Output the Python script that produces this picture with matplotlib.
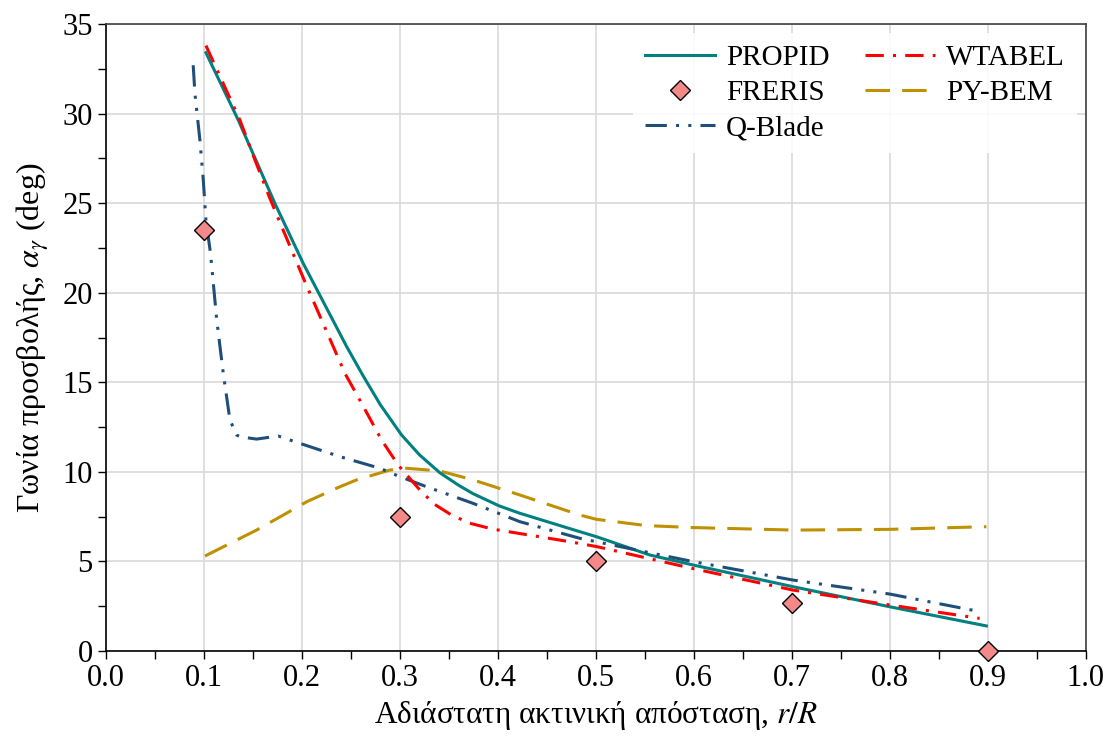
import numpy as np
import matplotlib
matplotlib.use("Agg")
import matplotlib.pyplot as plt
from matplotlib.ticker import MultipleLocator, FormatStrFormatter

# PROPID
propid_r = [0.102, 0.135, 0.1724, 0.2013, 0.2184, 0.2456, 0.2626, 0.280, 0.3017, 0.320,
            0.3408, 0.360, 0.3748, 0.4014, 0.4224, 0.4837, 0.5007, 0.5551, 0.5993,
            0.7013, 0.800, 0.8987]
propid_a = [33.4, 29.64, 24.99, 21.64, 19.85, 17.0, 15.35, 13.75, 12.06, 10.95,
            9.95, 9.25, 8.78, 8.1, 7.69, 6.66, 6.38, 5.36, 4.8,
            3.59, 2.47, 1.4]

# WTABEL
wtabel_r = [0.102, 0.1367, 0.150, 0.1673, 0.1793, 0.203, 0.2439, 0.2609, 0.2813,
            0.2983, 0.3204, 0.335, 0.351, 0.370, 0.3952, 0.4735, 0.5007, 0.5993,
            0.7013, 0.800, 0.8918]
wtabel_a = [33.8, 29.64, 27.7, 25.27, 23.7, 20.62, 15.5, 13.83, 11.78,
            10.38, 8.99, 8.2, 7.65, 7.15, 6.8, 6.1, 5.83, 4.6,
            3.4, 2.57, 1.82]

# Q-Blade
qblade_r = [0.089, 0.0908, 0.0959, 0.0993, 0.102, 0.1067, 0.113, 0.1197, 0.1265,
            0.1333, 0.1367, 0.1537, 0.1758, 0.198, 0.2388, 0.2796, 0.2983, 0.3272,
            0.3748, 0.4224, 0.4837, 0.5993, 0.7013, 0.800, 0.8918]
qblade_a = [32.7, 31.1, 28.5, 26.3, 24.06, 22.2, 18.5, 15.5, 12.9,
            12.06, 11.96, 11.83, 12.0, 11.59, 10.85, 10.2, 9.77, 9.17,
            8.24, 7.22, 6.29, 4.99, 3.96, 3.18, 2.2]

# PY-BEM
pybem_r = [0.101, 0.1537, 0.181, 0.2048, 0.2388, 0.2558, 0.2898, 0.3068, 0.3408,
           0.3748, 0.4224, 0.4837, 0.5007, 0.5517, 0.5993, 0.7013, 0.800, 0.8987]
pybem_a = [5.3, 6.75, 7.59, 8.33, 9.17, 9.55, 10.1, 10.2, 10.05,
           9.55, 8.71, 7.59, 7.35, 7.0, 6.89, 6.75, 6.79, 6.94]

# FRERIS
freris_r = [0.1, 0.3, 0.5, 0.7, 0.9]
freris_a = [23.5, 7.5, 5.0, 2.7, 0.0]

plt.rcParams["font.family"] = ["Liberation Serif", "DejaVu Serif"]
plt.rcParams["mathtext.fontset"] = "stix"

fig = plt.figure(figsize=(11.1, 7.37), dpi=100)
ax = fig.add_axes([0.0955, 0.1167, 0.8825, 0.8507])

ax.plot(propid_r, propid_a, color="#008080", lw=2.2, label="PROPID", zorder=4)
ax.plot(freris_r, freris_a, linestyle="none", marker="D", markersize=10,
        markerfacecolor="#F4898A", markeredgecolor="black", markeredgewidth=1.0,
        label="FRERIS", zorder=6, clip_on=False)
ax.plot(qblade_r, qblade_a, color="#1F4E79", lw=2.2, dashes=(7, 3, 1, 3, 1, 3),
        label="Q-Blade", zorder=5)
ax.plot(wtabel_r, wtabel_a, color="#FF0000", lw=2.2, dashes=(6, 3, 1, 3),
        label="WTABEL", zorder=5)
ax.plot(pybem_r, pybem_a, color="#BF9000", lw=2.2, dashes=(8, 4),
        label="PY-BEM", zorder=3)

ax.set_xlim(0, 1.0)
ax.set_ylim(0, 35)
ax.xaxis.set_major_locator(MultipleLocator(0.1))
ax.xaxis.set_minor_locator(MultipleLocator(0.05))
ax.yaxis.set_major_locator(MultipleLocator(5))
ax.yaxis.set_minor_locator(MultipleLocator(2.5))
ax.xaxis.set_major_formatter(FormatStrFormatter("%.1f"))
ax.tick_params(axis="both", which="both", direction="out", length=6, width=1, colors="black")
ax.tick_params(axis="both", labelsize=22)
ax.grid(True, which="major", color="#D9D9D9", lw=1.2)
ax.set_axisbelow(True)
for s in ax.spines.values():
    s.set_color("#404040")
    s.set_linewidth(1.2)
ax.spines["bottom"].set_color("black")
ax.spines["left"].set_color("black")

ax.set_xlabel(r"Αδιάστατη ακτινική απόσταση, $r/R$", fontsize=22.5, labelpad=4)
ax.set_ylabel(r"Γωνία προσβολής, $\alpha_\gamma$ (deg)", fontsize=23, labelpad=8)

ax.legend(ncol=2, loc="upper right", fontsize=21, frameon=True, framealpha=0.85,
          edgecolor="none", handlelength=2.4, columnspacing=1.2, labelspacing=0.3,
          borderaxespad=0.3, handletextpad=0.4)

fig.savefig("out.png", dpi=100)
